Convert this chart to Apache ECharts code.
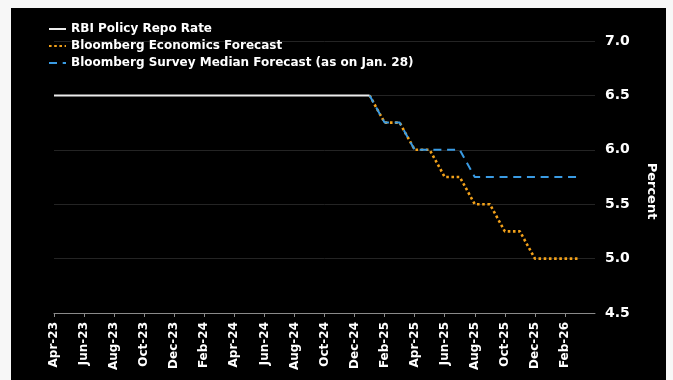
<!DOCTYPE html>
<html>
<head>
<meta charset="utf-8">
<script src="https://cdn.jsdelivr.net/npm/echarts@6/dist/echarts.min.js"></script>
<style>
  html, body { margin: 0; padding: 0; background: #f7f7f7; }
  #chart { width: 673px; height: 380px; }
</style>
</head>
<body>
<div id="chart"></div>
<script>
// Monthly axis, Apr-23 through Apr-26 (last slot only extends the axis)
const months = [
  'Apr-23','May-23','Jun-23','Jul-23','Aug-23','Sep-23','Oct-23','Nov-23','Dec-23',
  'Jan-24','Feb-24','Mar-24','Apr-24','May-24','Jun-24','Jul-24','Aug-24','Sep-24',
  'Oct-24','Nov-24','Dec-24','Jan-25','Feb-25','Mar-25','Apr-25','May-25','Jun-25',
  'Jul-25','Aug-25','Sep-25','Oct-25','Nov-25','Dec-25','Jan-26','Feb-26','Mar-26','Apr-26'
];

// RBI policy repo rate, Apr-23 .. Jan-25
const repoRate = [
  6.5, 6.5, 6.5, 6.5, 6.5, 6.5, 6.5, 6.5, 6.5, 6.5, 6.5,
  6.5, 6.5, 6.5, 6.5, 6.5, 6.5, 6.5, 6.5, 6.5, 6.5, 6.5
];

// Forecast paths, Jan-25 .. Mar-26
const forecastStart = 'Jan-25';
const economicsForecast = [6.5, 6.25, 6.25, 6.0, 6.0, 5.75, 5.75, 5.5, 5.5, 5.25, 5.25, 5.0, 5.0, 5.0, 5.0];
const surveyForecast    = [6.5, 6.25, 6.25, 6.0, 6.0, 6.0, 6.0, 5.75, 5.75, 5.75, 5.75, 5.75, 5.75, 5.75, 5.75];

const yTicks = { min: 4.5, max: 7.0, step: 0.5 };

function placeFrom(startLabel, values) {
  const start = months.indexOf(startLabel);
  return months.map((_, i) => (i >= start && i - start < values.length) ? values[i - start] : null);
}

const FONT = 'DejaVu Sans';
const chart = echarts.init(document.getElementById('chart'), null, { renderer: 'canvas' });

chart.setOption({
  backgroundColor: 'transparent',
  animation: false,
  textStyle: { fontFamily: FONT },
  graphic: [{
    type: 'rect', z: -10, silent: true,
    shape: { x: 11, y: 8, width: 655, height: 372 },
    style: { fill: '#000000' }
  }],
  legend: {
    orient: 'vertical',
    left: 43,
    top: 18,
    itemWidth: 17,
    itemHeight: 14,
    itemGap: 5,
    itemStyle: { opacity: 0 },
    textStyle: { color: '#ffffff', fontSize: 12, fontWeight: 'bold', fontFamily: FONT },
    data: ['RBI Policy Repo Rate', 'Bloomberg Economics Forecast', 'Bloomberg Survey Median Forecast (as on Jan. 28)']
  },
  grid: { left: 54, right: 78, top: 41, bottom: 67, containLabel: false },
  xAxis: {
    type: 'category',
    data: months,
    boundaryGap: false,
    axisLine: { show: true, lineStyle: { color: '#8a8a8a', width: 1 } },
    axisTick: {
      show: true, length: 4, lineStyle: { color: '#8a8a8a' },
      interval: (i) => i % 2 === 0 && i < months.length - 1
    },
    axisLabel: {
      color: '#ffffff', fontSize: 12, fontWeight: 'bold', fontFamily: FONT,
      rotate: 90, margin: 9,
      interval: (i) => i % 2 === 0 && i < months.length - 1
    },
    splitLine: { show: false }
  },
  yAxis: {
    type: 'value',
    position: 'right',
    min: yTicks.min, max: yTicks.max, interval: yTicks.step,
    axisLine: { show: false },
    axisTick: { show: false },
    axisLabel: {
      color: '#ffffff', fontSize: 14, fontWeight: 'bold', fontFamily: FONT, margin: 10,
      formatter: (v) => v.toFixed(1)
    },
    splitLine: { show: true, lineStyle: { color: '#242424', width: 1 } },
    name: 'Percent',
    nameLocation: 'middle',
    nameRotate: -90,
    nameGap: 50,
    nameTextStyle: { color: '#ffffff', fontSize: 13, fontWeight: 'bold', fontFamily: FONT, padding: [0, 0, 0, 28] }
  },
  series: [
    {
      name: 'RBI Policy Repo Rate',
      type: 'line',
      data: placeFrom('Apr-23', repoRate),
      symbol: 'none',
      connectNulls: false,
      lineStyle: { color: '#ececec', width: 2, type: 'solid' },
      itemStyle: { color: '#ececec' },
      z: 3
    },
    {
      name: 'Bloomberg Economics Forecast',
      type: 'line',
      data: placeFrom(forecastStart, economicsForecast),
      symbol: 'none',
      lineStyle: { color: '#f2a11a', width: 2.6, type: [2.6, 2.6] },
      itemStyle: { color: '#f2a11a' },
      z: 2
    },
    {
      name: 'Bloomberg Survey Median Forecast (as on Jan. 28)',
      type: 'line',
      data: placeFrom(forecastStart, surveyForecast),
      symbol: 'none',
      lineStyle: { color: '#3a9be3', width: 2, type: [8, 5.7] },
      itemStyle: { color: '#3a9be3' },
      z: 4
    }
  ]
});
</script>
</body>
</html>
